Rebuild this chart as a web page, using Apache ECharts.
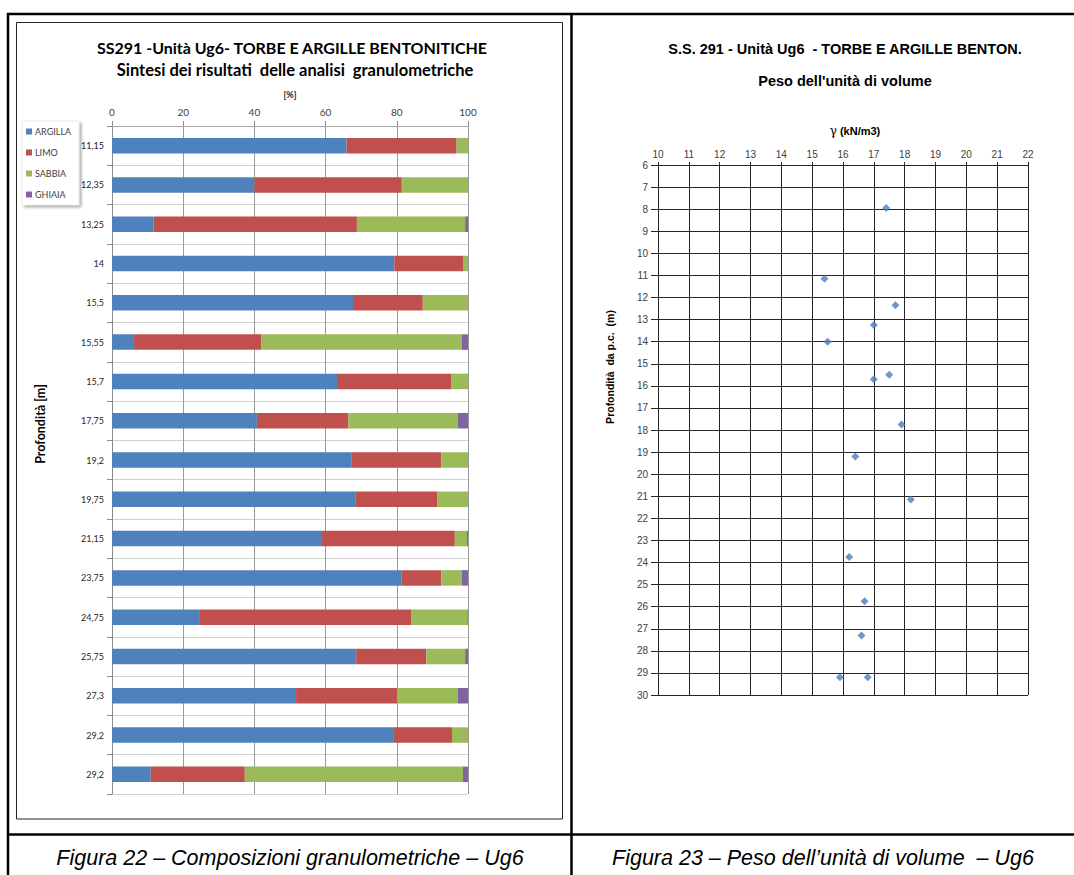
<!DOCTYPE html>
<html>
<head>
<meta charset="utf-8">
<title>Ug6 – granulometria e peso di volume</title>
<script src="https://cdn.jsdelivr.net/npm/echarts@6.0.0/dist/echarts.min.js"></script>
<style>
  html, body { margin: 0; padding: 0; background: #fff; }
  #chart { width: 1074px; height: 875px; }
</style>
</head>
<body>
<div id="chart"></div>
<script>
// Figura 22 – composizione granulometrica per profondità di prelievo [%]
const depthLabels = ['11,15', '12,35', '13,25', '14', '15,5', '15,55', '15,7', '17,75', '19,2',
  '19,75', '21,15', '23,75', '24,75', '25,75', '27,3', '29,2', '29,2'];
const argilla = [65.9, 40.0, 11.7, 79.3, 67.7, 6.2, 63.2, 40.7, 67.2, 68.5, 59.0, 81.4, 24.7, 68.6, 51.7, 79.2, 10.9];
const limo    = [30.9, 41.4, 57.1, 19.3, 19.6, 35.8, 32.2, 25.7, 25.3, 22.8, 37.3, 11.1, 59.3, 19.7, 28.4, 16.3, 26.4];
const sabbia  = [3.1, 18.5, 30.4, 1.4, 12.6, 56.3, 4.5, 30.8, 7.5, 8.7, 3.4, 5.8, 15.8, 10.9, 17.1, 4.5, 61.3];
const ghiaia  = [0.1, 0.1, 0.8, 0, 0.1, 1.7, 0.1, 2.8, 0, 0, 0.3, 1.7, 0.2, 0.8, 2.8, 0, 1.4];
const fractionNames = ['ARGILLA', 'LIMO', 'SABBIA', 'GHIAIA'];
const percentTicks = [0, 20, 40, 60, 80, 100];

// Figura 23 – peso dell'unità di volume γ (kN/m3) contro profondità (m)
const gamma = [17.4, 15.4, 17.7, 17.0, 15.5, 17.5, 17.0, 17.9, 16.4, 18.2, 16.2, 16.7, 16.6, 15.9, 16.8];
const depth = [7.95, 11.15, 12.35, 13.25, 14, 15.5, 15.7, 17.75, 19.2, 21.15, 23.75, 25.75, 27.3, 29.2, 29.2];
const gammaRange = [10, 22];
const depthRange = [6, 30];

const fractionColors = ['#4f81bd', '#c0504d', '#9bbb59', '#8064a2'];
const fractionValues = [argilla, limo, sabbia, ghiaia];

const calibri = 'Lato, "Open Sans", sans-serif';
const arial = '"Liberation Sans", Arial, sans-serif';

const chart = echarts.init(document.getElementById('chart'), null, { renderer: 'svg' });

const line = (x1, y1, x2, y2, w) => ({
  type: 'line', silent: true,
  shape: { x1, y1, x2, y2 },
  style: { stroke: '#000', lineWidth: w }
});

const label = (x, y, text, font, extra) => ({
  type: 'text', silent: true,
  style: Object.assign({ x, y, text, font, align: 'center', verticalAlign: 'middle', fill: '#000' }, extra || {})
});

const option = {
  animation: false,
  backgroundColor: '#fff',
  textStyle: { fontFamily: calibri },
  grid: [
    { left: 112, top: 126, width: 356, height: 668, outerBoundsMode: 'none', containLabel: false },
    { left: 658, top: 165, width: 370, height: 530, outerBoundsMode: 'none', containLabel: false }
  ],
  legend: {
    orient: 'vertical',
    left: 22, top: 121,
    icon: 'rect',
    itemWidth: 6, itemHeight: 6, itemGap: 12,
    padding: [6, 8, 6, 4],
    backgroundColor: '#fff',
    borderColor: '#d9d9d9', borderWidth: 0.5,
    shadowBlur: 3, shadowColor: 'rgba(0,0,0,0.35)', shadowOffsetX: 2, shadowOffsetY: 2,
    textStyle: { fontSize: 9, color: '#404040', fontFamily: calibri, padding: [0, 0, 0, -2] },
    data: fractionNames
  },
  xAxis: [
    {
      gridIndex: 0, type: 'value', position: 'top',
      min: percentTicks[0], max: percentTicks[percentTicks.length - 1], interval: 20,
      name: '[%]', nameLocation: 'middle', nameGap: 27,
      nameTextStyle: { fontSize: 9, fontWeight: 'bold', color: '#262626', fontFamily: calibri },
      axisLine: { show: true, lineStyle: { color: '#a6a6a6' } },
      axisTick: { show: true, length: 5, lineStyle: { color: '#8c8c8c' } },
      axisLabel: { fontSize: 10, color: '#404040', margin: 9, fontFamily: calibri },
      splitLine: { show: true, lineStyle: { color: '#9a9a9a', width: 1 } }
    },
    {
      gridIndex: 1, type: 'value', position: 'top',
      min: gammaRange[0], max: gammaRange[1], interval: 1,
      axisLine: { show: true, lineStyle: { color: '#262626' } },
      axisTick: { show: true, length: 3, lineStyle: { color: '#262626' } },
      axisLabel: { fontSize: 10, color: '#404040', margin: 6, fontFamily: arial },
      splitLine: { show: true, lineStyle: { color: '#262626', width: 1 } }
    }
  ],
  yAxis: [
    {
      gridIndex: 0, type: 'category', inverse: true,
      data: depthLabels,
      axisLine: { show: true, lineStyle: { color: '#8c8c8c' } },
      axisTick: { show: true, length: 5, lineStyle: { color: '#8c8c8c' } },
      axisLabel: { interval: 0, fontSize: 9, color: '#262626', margin: 8, fontFamily: calibri },
      splitLine: { show: true, interval: 0, lineStyle: { color: '#d0d0d0', width: 1 } }
    },
    {
      gridIndex: 1, type: 'value', inverse: true,
      min: depthRange[0], max: depthRange[1], interval: 1,
      axisLine: { show: true, lineStyle: { color: '#262626' } },
      axisTick: { show: true, length: 7, lineStyle: { color: '#262626' } },
      axisLabel: { fontSize: 10, color: '#404040', margin: 10, fontFamily: arial },
      splitLine: { show: true, lineStyle: { color: '#262626', width: 1 } }
    }
  ],
  series: fractionNames.map((name, i) => ({
    name, type: 'bar', stack: 'granulometria',
    xAxisIndex: 0, yAxisIndex: 0,
    barWidth: 15.5,
    itemStyle: { color: fractionColors[i] },
    data: fractionValues[i]
  })).concat([{
    name: 'γ', type: 'scatter', xAxisIndex: 1, yAxisIndex: 1,
    symbol: 'diamond', symbolSize: 8,
    itemStyle: { color: '#4a7ebb' },
    data: gamma.map((g, i) => [g, depth[i]])
  }]),
  graphic: [
    // table frame
    line(7, 14, 1074, 14, 2.5),
    line(8, 13, 8, 875, 2.5),
    line(571.5, 13, 571.5, 875, 2.5),
    line(7, 834.5, 1074, 834.5, 2.5),
    // left chart frame
    {
      type: 'rect', silent: true,
      shape: { x: 16.5, y: 22.5, width: 546, height: 796.5 },
      style: { fill: null, stroke: '#262626', lineWidth: 1 }
    },
    // left chart titles and depth axis name
    label(292, 47, 'SS291 -Unità Ug6- TORBE E ARGILLE BENTONITICHE', 'bold 16px ' + calibri),
    label(295, 70, 'Sintesi dei risultati  delle analisi  granulometriche', 'bold 16.5px ' + calibri),
    {
      type: 'text', silent: true, x: 40, y: 424, rotation: Math.PI / 2,
      style: { x: 0, y: 0, text: 'Profondità [m]', align: 'center', verticalAlign: 'middle',
        font: 'bold 12.5px ' + calibri, fill: '#000' }
    },
    // right chart titles and axis names
    label(845, 49, 'S.S. 291 - Unità Ug6  - TORBE E ARGILLE BENTON.', 'bold 14.5px ' + arial),
    label(845, 81, "Peso dell'unità di volume", 'bold 14.5px ' + arial),
    {
      type: 'text', silent: true,
      style: {
        x: 855, y: 131, text: '{g|γ} (kN/m3)', align: 'center', verticalAlign: 'middle',
        font: 'bold 11px ' + arial, fill: '#000',
        rich: { g: { fontFamily: '"DejaVu Serif", serif', fontWeight: 'normal', fontSize: 12, fill: '#000' } }
      }
    },
    {
      type: 'text', silent: true, x: 610, y: 367, rotation: Math.PI / 2,
      style: { x: 0, y: 0, text: 'Profondità  da p.c.  (m)', align: 'center', verticalAlign: 'middle',
        font: 'bold 10.5px ' + arial, fill: '#000' }
    },
    // captions
    label(290, 858, 'Figura 22 – Composizioni granulometriche – Ug6', 'italic 21.5px ' + arial),
    label(823, 858, 'Figura 23 – Peso dell’unità di volume  – Ug6', 'italic 21.5px ' + arial)
  ]
};

chart.setOption(option);
</script>
</body>
</html>
